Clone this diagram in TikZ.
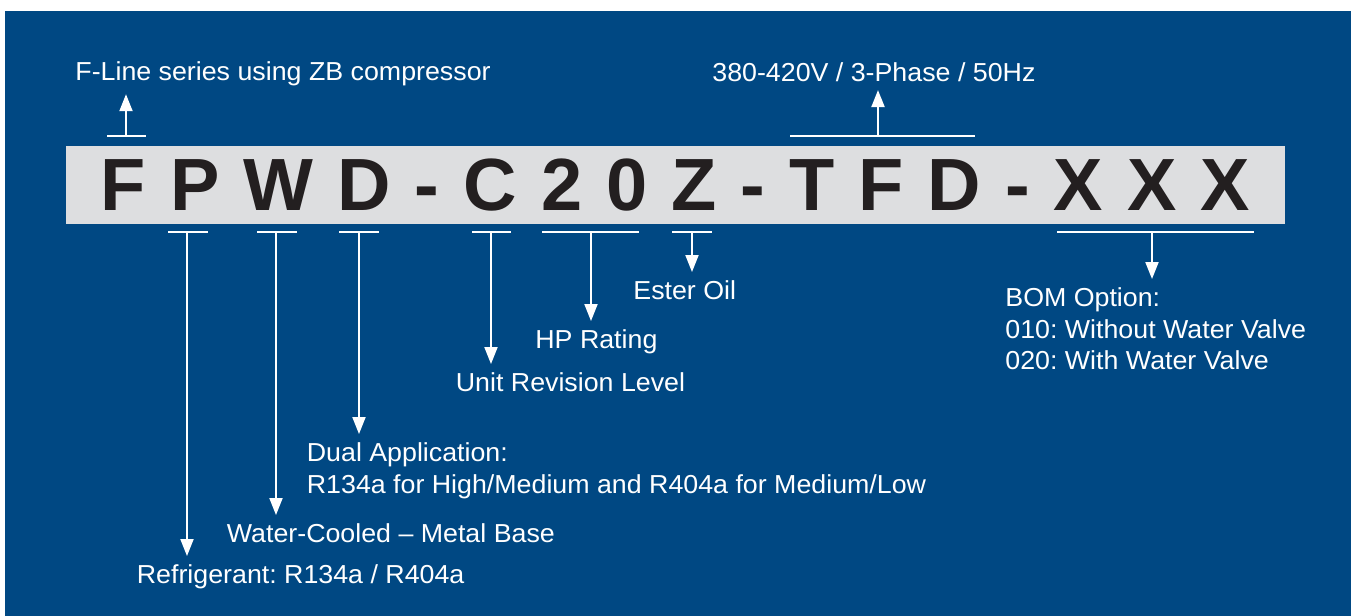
\documentclass[tikz,border=0pt]{standalone}
\usepackage{fontspec}
\setmainfont{Liberation Sans}
\newfontfamily\lblfont{Liberation Sans}[FakeStretch=1.03,Ligatures=TeX]
\usepackage{tikz}
\usetikzlibrary{matrix,arrows.meta}

\definecolor{panelblue}{HTML}{004883}
\definecolor{bandgray}{HTML}{DDDEE0}
\definecolor{inkblack}{HTML}{231F20}

\tikzset{
  lbl/.style={text=white, inner xsep=0pt, inner ysep=4.2pt, align=left,
    font=\lblfont\fontsize{13}{15.75}\selectfont\frenchspacing},
  brk/.style={draw=white, line width=1pt},
  pointer/.style={draw=white, line width=1pt, -{Triangle[width=6.5pt,length=8.5pt]}}
}

\begin{document}
\begin{tikzpicture}[x=0.5pt,y=-0.5pt]
  \useasboundingbox (0,0) rectangle (1351,616);
  \fill[panelblue] (5,11) rectangle (1351,616);

  \matrix (m) [matrix of nodes, fill=bandgray, inner xsep=17.5pt, inner ysep=6.5pt, column sep=12.02pt,
    nodes={inner sep=0pt, text=inkblack, font=\fontsize{37}{40}\selectfont\bfseries}] at (675.5,185)
  {
F & P & W & D & - & C & 2 & 0 & Z & - & T & F & D & - & X & X & X \\
  };

  % labels
  \node[lbl, anchor=base west] (fline) at (75,80) {F-Line series using ZB compressor};
  \node[lbl, anchor=base west] (volt) at (712,81) {380-420V / 3-Phase / 50Hz};
  \node[lbl, anchor=north west] (refr) at (136.5,556) {Refrigerant: R134a / R404a};
  \node[lbl, anchor=north west] (water) at (226.5,515) {Water-Cooled -- Metal Base};
  \node[lbl, anchor=north west] (dual) at (306.5,434) {Dual Application:\\R134a for High/Medium and R404a for Medium/Low};
  \node[lbl, anchor=north west] (unit) at (455.5,364) {Unit Revision Level};
  \node[lbl, anchor=north west] (hp) at (535,321) {HP Rating};
  \node[lbl, anchor=north west] (ester) at (633,272) {Ester Oil};
  \node[lbl, anchor=north west] (bom) at (1005,279) {BOM Option:\\010: Without Water Valve\\020: With Water Valve};

  % brackets
  \draw[brk] (107,136) -- (146,136);
  \draw[brk] (790,136) -- (975,136);
  \draw[brk] (168,232) -- (208,232);
  \draw[brk] (257,232) -- (297,232);
  \draw[brk] (339,232) -- (379,232);
  \draw[brk] (472,232) -- (511,232);
  \draw[brk] (542,232) -- (639,232);
  \draw[brk] (672,232) -- (712,232);
  \draw[brk] (1057,232) -- (1254,232);

  \coordinate (flstem) at (126,136);
  \coordinate (voltstem) at (878,136);
  \coordinate (refrstem) at (187,232);
  \coordinate (waterstem) at (276,232);
  \coordinate (dualstem) at (359,232);
  \coordinate (unitstem) at (491,232);
  \coordinate (hpstem) at (591,232);
  \coordinate (esterstem) at (692,232);
  \coordinate (bomstem) at (1152,232);

  % pointers
  \draw[pointer] (flstem) -- (flstem |- fline.south);
  \draw[pointer] (voltstem) -- (voltstem |- volt.south);
  \draw[pointer] (refrstem) -- (refrstem |- refr.north);
  \draw[pointer] (waterstem) -- (waterstem |- water.north);
  \draw[pointer] (dualstem) -- (dualstem |- dual.north);
  \draw[pointer] (unitstem) -- (unitstem |- unit.north);
  \draw[pointer] (hpstem) -- (hpstem |- hp.north);
  \draw[pointer] (esterstem) -- (esterstem |- ester.north);
  \draw[pointer] (bomstem) -- (bomstem |- bom.north);
\end{tikzpicture}
\end{document}
